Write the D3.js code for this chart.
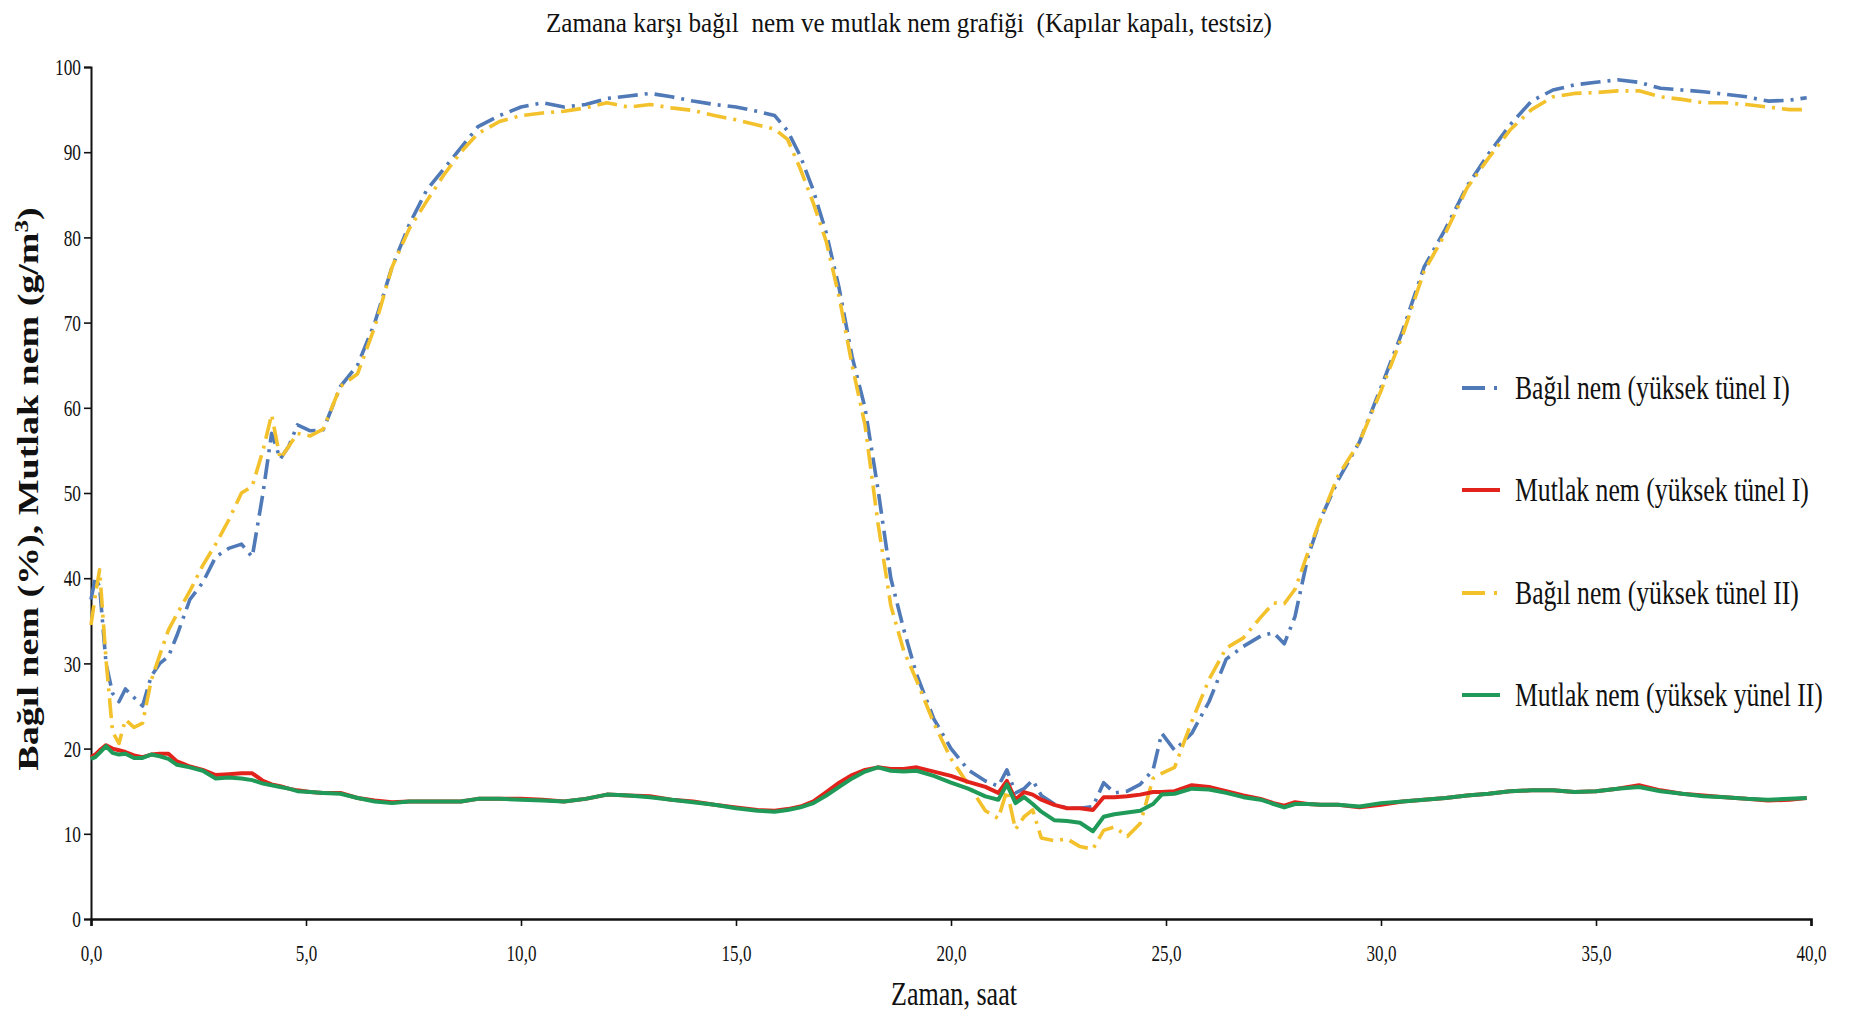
<!DOCTYPE html>
<html>
<head>
<meta charset="utf-8">
<script src="https://cdnjs.cloudflare.com/ajax/libs/d3/7.8.5/d3.min.js"></script>
<style>
  body { margin: 0; background: #fff; }
  text { font-family: "Liberation Serif", "DejaVu Serif", serif; fill: #111; }
</style>
</head>
<body>
<svg id="chart" width="1850" height="1020"></svg>
<script>
// zaman (saat)
const hours = [0, 0.1, 0.2, 0.35, 0.5, 0.65, 0.8, 1.0, 1.2, 1.4, 1.6, 1.8, 2.0, 2.3, 2.6, 2.9, 3.2, 3.5, 3.75, 4.0,
  4.2, 4.4, 4.6, 4.8, 5.1, 5.4, 5.8, 6.2, 6.6, 7.0, 7.4, 7.8, 8.2, 8.6, 9.0, 9.5, 10.0, 10.5, 11.0, 11.5,
  12.0, 12.5, 13.0, 13.5, 14.0, 14.5, 15.0, 15.5, 15.9, 16.2, 16.5, 16.8, 17.1, 17.4, 17.7, 18.0, 18.3, 18.6, 18.9, 19.2,
  19.6, 20.0, 20.4, 20.8, 21.1, 21.3, 21.5, 21.7, 21.9, 22.1, 22.4, 22.7, 23.0, 23.3, 23.55, 23.8, 24.1, 24.4, 24.7, 24.9,
  25.2, 25.6, 26.0, 26.4, 26.8, 27.2, 27.5, 27.75, 28.0, 28.3, 28.6, 29.0, 29.5, 30.0, 30.5, 31.0, 31.5, 32.0, 32.5, 33.0,
  33.5, 34.0, 34.5, 35.0, 35.5, 36.0, 36.5, 37.0, 37.5, 38.0, 38.5, 39.0, 39.5, 39.9];

// Bağıl nem (yüksek tünel I) %
const rhTunnel1 = [37.5, 40, 39, 30, 26.5, 25.5, 27, 26, 25, 28.5, 30, 30.8, 33.3, 37.5, 39.5, 42.5, 43.5, 44, 42.5, 50,
  57, 54, 55.5, 58, 57.3, 57.4, 62.5, 65, 70, 76.5, 81.5, 85.5, 88, 90.5, 93, 94.3, 95.3, 95.8, 95.3, 95.6,
  96.3, 96.6, 96.9, 96.5, 96.0, 95.6, 95.3, 94.8, 94.3, 92.5, 89.5, 85.5, 80.5, 74, 66, 60, 50.5, 40, 34, 28.7,
  23.5, 20, 17.5, 16.2, 15.6, 17.5, 14.8, 15.3, 16.3, 14.5, 13.5, 13.0, 13.0, 13.2, 16.0, 14.8, 15.0, 15.8, 17.5, 21.8,
  19.8, 21.8, 25.5, 30.5, 32.0, 33.2, 33.6, 32.3, 35.5, 42.5, 47, 51.5, 56, 62.4, 69, 76.5, 81, 86, 89.8, 93.2,
  96.0, 97.3, 97.9, 98.2, 98.5, 98.2, 97.5, 97.3, 97.1, 96.8, 96.5, 96.0, 96.1, 96.4];

// Mutlak nem (yüksek tünel I) g/m3
const ahTunnel1 = [19.0, 19.3, 19.8, 20.4, 20.0, 19.8, 19.6, 19.2, 19.0, 19.3, 19.4, 19.4, 18.5, 17.9, 17.5, 16.9, 17.0, 17.1, 17.1, 16.2,
  15.8, 15.6, 15.3, 15.1, 14.9, 14.8, 14.8, 14.2, 13.9, 13.7, 13.8, 13.8, 13.8, 13.8, 14.1, 14.1, 14.1, 14.0, 13.8, 14.1,
  14.6, 14.5, 14.4, 14.0, 13.8, 13.4, 13.1, 12.8, 12.7, 12.9, 13.2, 13.8, 14.9, 16.0, 16.9, 17.5, 17.8, 17.6, 17.6, 17.8,
  17.3, 16.8, 16.1, 15.5, 14.8, 16.2, 14.0, 14.9, 14.6, 14.0, 13.4, 13.0, 13.0, 12.8, 14.3, 14.3, 14.4, 14.6, 14.9, 14.9,
  15.0, 15.7, 15.5, 15.0, 14.5, 14.1, 13.6, 13.3, 13.7, 13.5, 13.4, 13.4, 13.1, 13.4, 13.8, 14.0, 14.2, 14.5, 14.7, 15.0,
  15.1, 15.1, 14.9, 15.0, 15.3, 15.7, 15.1, 14.7, 14.5, 14.3, 14.1, 13.9, 14.0, 14.2];

// Bağıl nem (yüksek tünel II) %
const rhTunnel2 = [34.5, 38, 41, 30.4, 22, 20.6, 23.4, 22.5, 23, 28, 31, 33.9, 35.8, 38.5, 41.5, 44, 46.8, 50, 50.8, 55,
  59.2, 54, 55.5, 57, 56.7, 57.5, 62.5, 64, 69.5, 76.5, 81, 84.2, 87.3, 90, 92.2, 93.6, 94.3, 94.6, 94.8, 95.2,
  95.8, 95.3, 95.6, 95.2, 94.9, 94.3, 93.8, 93.2, 92.7, 91.5, 88, 84, 79.5, 73, 65, 58, 46.5, 36.8, 31.5, 28,
  23, 18.8, 15.8, 12.7, 11.8, 15.1, 10.5, 12, 12.8, 9.5, 9.2, 9.4, 8.5, 8.2, 10.4, 10.8, 9.7, 11.2, 16.5, 17.1,
  17.8, 23.2, 28.1, 31.8, 33, 35.4, 37.1, 37, 38.7, 43, 47, 52, 56, 62, 68.5, 76, 80.5, 85.8, 89.3, 92.6,
  95, 96.5, 96.9, 97.0, 97.2, 97.2, 96.5, 96.2, 95.8, 95.8, 95.6, 95.3, 95.0, 95.0];

// Mutlak nem (yüksek tünel II) g/m3
const ahTunnel2 = [18.8, 19.0, 19.5, 20.3, 19.5, 19.3, 19.4, 18.9, 18.9, 19.3, 19.1, 18.8, 18.1, 17.8, 17.4, 16.5, 16.6, 16.5, 16.3, 15.9,
  15.7, 15.5, 15.3, 15.0, 14.9, 14.8, 14.7, 14.2, 13.8, 13.6, 13.8, 13.8, 13.8, 13.8, 14.1, 14.1, 14.0, 13.9, 13.8, 14.1,
  14.6, 14.5, 14.3, 14.0, 13.7, 13.4, 13.0, 12.7, 12.6, 12.8, 13.1, 13.6, 14.5, 15.5, 16.5, 17.3, 17.8, 17.4, 17.3, 17.4,
  16.8, 16.0, 15.3, 14.4, 14.0, 15.8, 13.6, 14.3, 13.5, 12.6, 11.6, 11.5, 11.3, 10.3, 12.0, 12.3, 12.5, 12.7, 13.5, 14.6,
  14.7, 15.3, 15.2, 14.8, 14.3, 14.0, 13.5, 13.1, 13.5, 13.5, 13.4, 13.4, 13.2, 13.6, 13.8, 14.0, 14.2, 14.5, 14.7, 15.0,
  15.1, 15.1, 14.9, 15.0, 15.3, 15.5, 15.0, 14.7, 14.4, 14.3, 14.1, 14.0, 14.1, 14.2];

const xTicks = [0, 5, 10, 15, 20, 25, 30, 35, 40];
const yTicks = [0, 10, 20, 30, 40, 50, 60, 70, 80, 90, 100];

const seriesNames = ["Bağıl nem (yüksek tünel I)", "Mutlak nem (yüksek tünel I)",
  "Bağıl nem (yüksek tünel II)", "Mutlak nem (yüksek yünel II)"];
const seriesValues = [rhTunnel1, ahTunnel1, rhTunnel2, ahTunnel2];
const seriesColors = ["#4f79b7", "#e2231c", "#f3c12c", "#1f9a58"];
const seriesDashed = [true, false, true, false];

const svg = d3.select("#chart");
svg.append("rect").attr("width", 1850).attr("height", 1020).attr("fill", "#fff");

const x = d3.scaleLinear().domain([0, 40]).range([91, 1811]);
const y = d3.scaleLinear().domain([0, 100]).range([919, 67]);

// squeeze text horizontally like the original picture
function squeeze(sel, k) {
  sel.each(function () {
    const w = this.getComputedTextLength();
    d3.select(this).attr("textLength", w * k).attr("lengthAdjust", "spacingAndGlyphs");
  });
}

// axes
const gx = svg.append("g").attr("transform", "translate(0,919)")
  .call(d3.axisBottom(x).tickValues(xTicks).tickSize(7).tickPadding(19)
    .tickFormat(d => d3.format(".1f")(d).replace(".", ",")));
gx.select(".domain").attr("stroke", "#111").attr("stroke-width", 2.6);
gx.selectAll(".tick line").attr("stroke", "#111").attr("stroke-width", 1.6);
gx.selectAll(".tick text").attr("font-size", 23).attr("font-family", "Liberation Serif").attr("fill", "#222");
squeeze(gx.selectAll(".tick text"), 0.74);

const gy = svg.append("g").attr("transform", "translate(91,0)")
  .call(d3.axisLeft(y).tickValues(yTicks).tickSize(7).tickPadding(3));
gy.select(".domain").attr("stroke", "#111").attr("stroke-width", 2);
gy.selectAll(".tick line").attr("stroke", "#111").attr("stroke-width", 1.6);
gy.selectAll(".tick text").attr("font-size", 24).attr("font-family", "Liberation Serif").attr("fill", "#222");
squeeze(gy.selectAll(".tick text"), 0.72);

// lines
const line = d3.line().x((d, i) => x(hours[i])).y(d => y(d));
const drawOrder = [0, 2, 1, 3];
drawOrder.forEach(k => {
  svg.append("path")
    .datum(seriesValues[k])
    .attr("d", line)
    .attr("fill", "none")
    .attr("stroke", seriesColors[k])
    .attr("stroke-width", seriesDashed[k] ? 3.6 : 4)
    .attr("stroke-linejoin", "round")
    .attr("stroke-dasharray", seriesDashed[k] ? "20,7,3,7" : null);
});

// title
svg.append("text")
  .attr("x", 909).attr("y", 32)
  .attr("text-anchor", "middle")
  .attr("font-size", 28)
  .style("white-space", "pre")
  .attr("textLength", 726).attr("lengthAdjust", "spacingAndGlyphs")
  .text("Zamana karşı bağıl  nem ve mutlak nem grafiği  (Kapılar kapalı, testsiz)");

// x label
const xl = svg.append("text")
  .attr("x", 954).attr("y", 1005)
  .attr("text-anchor", "middle")
  .attr("font-size", 33)
  .text("Zaman, saat");
squeeze(xl, 0.79);

// y label
const yl = svg.append("text")
  .attr("transform", "translate(38,489) scale(0.75,1) rotate(-90)")
  .attr("text-anchor", "middle")
  .attr("font-size", 38)
  .attr("font-weight", "bold");
yl.append("tspan").text("Bağıl nem (%), Mutlak nem (g/m");
yl.append("tspan").attr("dy", -14).attr("font-size", 25).text("3");
yl.append("tspan").attr("dy", 14).text(")");

// legend
const legendY = [388, 490, 593, 695];
const legendW = [275, 294, 284, 308];
const lg = svg.append("g");
seriesNames.forEach((name, k) => {
  lg.append("line")
    .attr("x1", 1462).attr("x2", 1500)
    .attr("y1", legendY[k]).attr("y2", legendY[k])
    .attr("stroke", seriesColors[k])
    .attr("stroke-width", 4)
    .attr("stroke-dasharray", seriesDashed[k] ? "23,9,3,20" : null);
  const t = lg.append("text")
    .attr("font-size", 33)
    .text(name);
  const k2 = legendW[k] / t.node().getComputedTextLength();
  t.attr("transform", `translate(1515,${legendY[k] + 11}) scale(${k2},1)`);
});
</script>
</body>
</html>
